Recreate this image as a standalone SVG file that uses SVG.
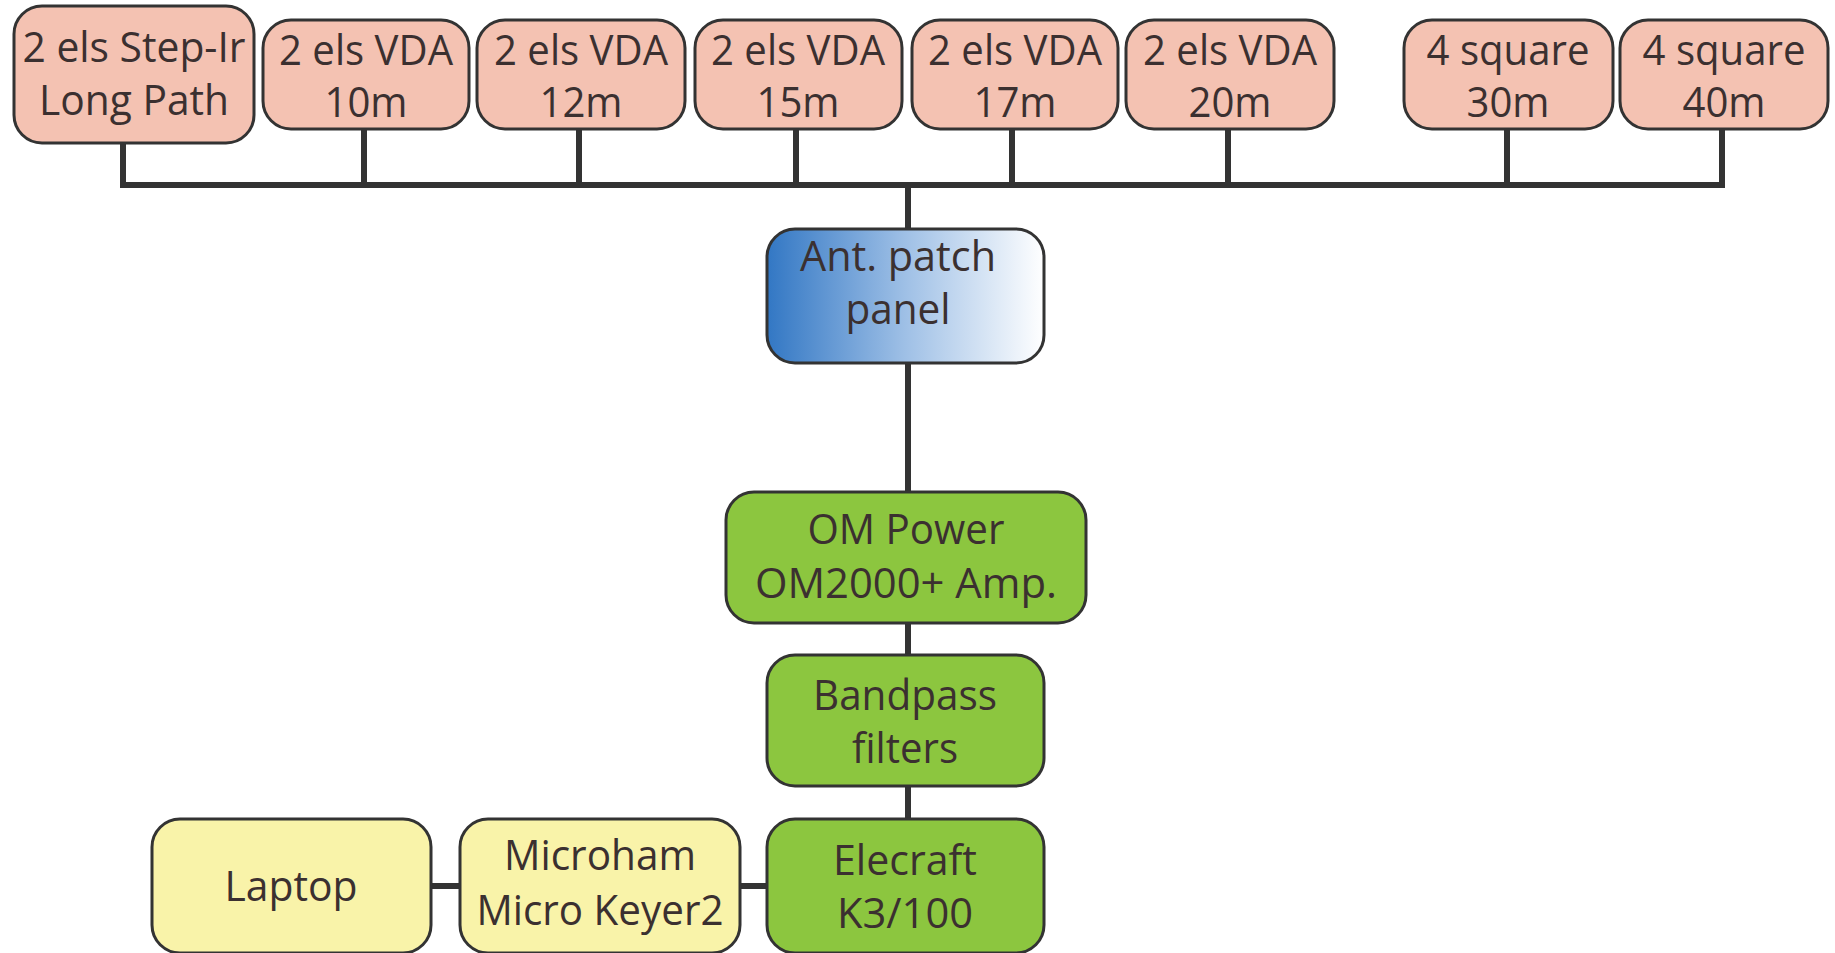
<svg xmlns="http://www.w3.org/2000/svg" width="1835" height="953" viewBox="0 0 1835 953">
<defs>
<linearGradient id="blueGrad" x1="0" y1="0" x2="1" y2="0">
<stop offset="0" stop-color="#3277c4"/>
<stop offset="0.5" stop-color="#9fc0e6"/>
<stop offset="1" stop-color="#ffffff"/>
</linearGradient>
<style>
.box{stroke:#333333;stroke-width:3}
.ant{fill:#f4c2b2}
.grn{fill:#8cc63f}
.yel{fill:#f9f3a9}
.blu{fill:url(#blueGrad)}
.t{font-family:"Open Sans","Noto Sans",sans-serif;font-size:42px;fill:#3b3030;text-anchor:middle}
.c{stroke:#333333;stroke-width:6;fill:none}
</style>
</defs>
<rect width="1835" height="953" fill="#ffffff"/>
<g id="connectors">
<path class="c" d="M123,143 V185 M364,129 V185 M579,129 V185 M796,129 V185 M1012,129 V185 M1228,129 V185 M1507,129 V185 M1722,129 V185 M120,185 H1725"/>
<path class="c" d="M908,185 V229 M908,363 V492 M908,623 V655 M908,786 V819"/>
<path class="c" d="M431,886 H460 M740,886 H767"/>
</g>
<g id="n1"><rect class="box ant" x="14" y="6" width="240" height="137" rx="28"/><text class="t" x="134" y="62" textLength="223" lengthAdjust="spacingAndGlyphs">2 els Step-Ir</text><text class="t" x="134" y="115" textLength="190" lengthAdjust="spacingAndGlyphs">Long Path</text></g>
<g id="n2"><rect class="box ant" x="263" y="20" width="206" height="109" rx="28"/><text class="t" x="366" y="65" textLength="174" lengthAdjust="spacingAndGlyphs">2 els VDA</text><text class="t" x="366" y="117" textLength="83" lengthAdjust="spacingAndGlyphs">10m</text></g>
<g id="n3"><rect class="box ant" x="477" y="20" width="208" height="109" rx="28"/><text class="t" x="581" y="65" textLength="174" lengthAdjust="spacingAndGlyphs">2 els VDA</text><text class="t" x="581" y="117" textLength="83" lengthAdjust="spacingAndGlyphs">12m</text></g>
<g id="n4"><rect class="box ant" x="695" y="20" width="207" height="109" rx="28"/><text class="t" x="798" y="65" textLength="174" lengthAdjust="spacingAndGlyphs">2 els VDA</text><text class="t" x="798" y="117" textLength="83" lengthAdjust="spacingAndGlyphs">15m</text></g>
<g id="n5"><rect class="box ant" x="912" y="20" width="206" height="109" rx="28"/><text class="t" x="1015" y="65" textLength="174" lengthAdjust="spacingAndGlyphs">2 els VDA</text><text class="t" x="1015" y="117" textLength="83" lengthAdjust="spacingAndGlyphs">17m</text></g>
<g id="n6"><rect class="box ant" x="1126" y="20" width="208" height="109" rx="28"/><text class="t" x="1230" y="65" textLength="174" lengthAdjust="spacingAndGlyphs">2 els VDA</text><text class="t" x="1230" y="117" textLength="83" lengthAdjust="spacingAndGlyphs">20m</text></g>
<g id="n7"><rect class="box ant" x="1404" y="20" width="209" height="109" rx="28"/><text class="t" x="1508" y="65" textLength="163" lengthAdjust="spacingAndGlyphs">4 square</text><text class="t" x="1508" y="117" textLength="83" lengthAdjust="spacingAndGlyphs">30m</text></g>
<g id="n8"><rect class="box ant" x="1620" y="20" width="208" height="109" rx="28"/><text class="t" x="1724" y="65" textLength="163" lengthAdjust="spacingAndGlyphs">4 square</text><text class="t" x="1724" y="117" textLength="83" lengthAdjust="spacingAndGlyphs">40m</text></g>
<g id="patch"><rect class="box blu" x="767" y="229" width="277" height="134" rx="28"/><text class="t" x="898" y="271" textLength="196" lengthAdjust="spacingAndGlyphs">Ant. patch</text><text class="t" x="898" y="324" textLength="105" lengthAdjust="spacingAndGlyphs">panel</text></g>
<g id="amp"><rect class="box grn" x="726" y="492" width="360" height="131" rx="28"/><text class="t" x="906" y="544" textLength="197" lengthAdjust="spacingAndGlyphs">OM Power</text><text class="t" x="906" y="598" textLength="302" lengthAdjust="spacingAndGlyphs">OM2000+ Amp.</text></g>
<g id="bpf"><rect class="box grn" x="767" y="655" width="277" height="131" rx="28"/><text class="t" x="905" y="710" textLength="184" lengthAdjust="spacingAndGlyphs">Bandpass</text><text class="t" x="905" y="763" textLength="106" lengthAdjust="spacingAndGlyphs">filters</text></g>
<g id="k3"><rect class="box grn" x="767" y="819" width="277" height="134" rx="28"/><text class="t" x="905" y="875" textLength="144" lengthAdjust="spacingAndGlyphs">Elecraft</text><text class="t" x="905" y="928" textLength="136" lengthAdjust="spacingAndGlyphs">K3/100</text></g>
<g id="keyer"><rect class="box yel" x="460" y="819" width="280" height="134" rx="28"/><text class="t" x="600" y="870" textLength="192" lengthAdjust="spacingAndGlyphs">Microham</text><text class="t" x="600" y="925" textLength="247" lengthAdjust="spacingAndGlyphs">Micro Keyer2</text></g>
<g id="laptop"><rect class="box yel" x="152" y="819" width="279" height="134" rx="28"/><text class="t" x="291" y="901" textLength="133" lengthAdjust="spacingAndGlyphs">Laptop</text></g>
</svg>
